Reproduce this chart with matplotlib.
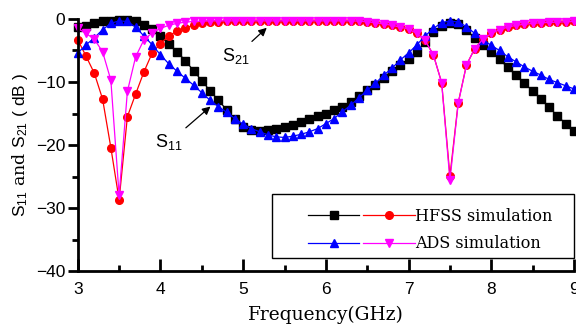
import matplotlib
matplotlib.use('Agg')
import matplotlib.pyplot as plt
from matplotlib.legend_handler import HandlerTuple
from matplotlib.patches import Rectangle
from matplotlib.ticker import MultipleLocator

# frequency sweep (GHz), 0.1 GHz step
freq = [3.0, 3.1, 3.2, 3.3, 3.4, 3.5, 3.6, 3.7, 3.8, 3.9,
        4.0, 4.1, 4.2, 4.3, 4.4, 4.5, 4.6, 4.7, 4.8, 4.9,
        5.0, 5.1, 5.2, 5.3, 5.4, 5.5, 5.6, 5.7, 5.8, 5.9,
        6.0, 6.1, 6.2, 6.3, 6.4, 6.5, 6.6, 6.7, 6.8, 6.9,
        7.0, 7.1, 7.2, 7.3, 7.4, 7.5, 7.6, 7.7, 7.8, 7.9,
        8.0, 8.1, 8.2, 8.3, 8.4, 8.5, 8.6, 8.7, 8.8, 8.9, 9.0]

hfss_s11 = [-1.3, -1.1, -0.7, -0.4, -0.3, -0.2, -0.2, -0.4, -1.0, -1.6,
            -2.7, -3.9, -5.2, -6.6, -8.2, -9.8, -11.4, -12.9, -14.4, -15.9,
            -17.1, -17.6, -17.8, -17.6, -17.4, -17.1, -16.8, -16.3, -15.8, -15.4,
            -15.0, -14.4, -13.9, -13.1, -12.3, -11.3, -10.4, -9.3, -8.2, -7.3,
            -6.4, -5.2, -3.7, -2.1, -1.1, -0.7, -0.8, -1.8, -3.0, -4.1,
            -5.2, -6.4, -7.7, -8.9, -10.2, -11.4, -12.7, -14.0, -15.4, -16.6, -17.7]

hfss_s21 = [-3.3, -5.9, -8.6, -12.7, -20.4, -28.7, -15.5, -11.9, -8.4, -5.4,
            -3.9, -2.7, -1.9, -1.4, -1.0, -0.7, -0.55, -0.45, -0.4, -0.4,
            -0.35, -0.35, -0.35, -0.35, -0.35, -0.35, -0.35, -0.35, -0.35, -0.35,
            -0.35, -0.35, -0.35, -0.35, -0.4, -0.45, -0.6, -0.8, -1.0, -1.3,
            -1.6, -2.3, -3.4, -5.7, -10.1, -24.9, -13.3, -7.3, -4.7, -3.2,
            -2.3, -1.7, -1.3, -1.0, -0.85, -0.7, -0.6, -0.55, -0.5, -0.45, -0.4]

ads_s11 = [-5.4, -4.1, -3.0, -1.7, -0.7, -0.3, -0.4, -1.3, -2.7, -4.1,
           -5.7, -7.1, -8.3, -9.4, -10.5, -11.7, -12.9, -13.9, -14.8, -15.8,
           -16.7, -17.4, -17.9, -18.4, -18.7, -18.8, -18.6, -18.3, -17.9, -17.4,
           -16.6, -15.8, -14.7, -13.7, -12.5, -11.3, -10.2, -8.9, -7.8, -6.5,
           -5.4, -4.1, -2.7, -1.5, -0.6, -0.3, -0.5, -1.2, -2.3, -3.3,
           -4.2, -5.0, -6.0, -6.8, -7.6, -8.3, -8.9, -9.6, -10.1, -10.6, -11.1]

ads_s21 = [-1.5, -2.3, -3.2, -5.2, -9.7, -28.0, -11.5, -6.0, -3.3, -2.2,
           -1.5, -1.0, -0.7, -0.5, -0.4, -0.35, -0.3, -0.3, -0.3, -0.3,
           -0.3, -0.3, -0.3, -0.3, -0.3, -0.3, -0.3, -0.3, -0.3, -0.3,
           -0.3, -0.3, -0.3, -0.3, -0.35, -0.45, -0.6, -0.8, -1.0, -1.3,
           -1.6, -2.3, -3.4, -5.7, -10.1, -25.6, -13.4, -7.3, -4.7, -3.2,
           -2.3, -1.7, -1.3, -1.0, -0.85, -0.7, -0.6, -0.55, -0.5, -0.45, -0.4]

plt.rcParams['mathtext.fontset'] = 'custom'
plt.rcParams['mathtext.rm'] = 'Liberation Sans'
plt.rcParams['mathtext.it'] = 'Liberation Sans'

fig = plt.figure(figsize=(5.76, 3.27), dpi=100)
ax = fig.add_axes([0.135, 0.171, 0.8615, 0.771])

kw = dict(linewidth=0.9, markersize=5.5, clip_on=False)
l1, = ax.plot(freq, hfss_s11, color='black', marker='s', **kw)
l2, = ax.plot(freq, hfss_s21, color='red', marker='o', **kw)
l3, = ax.plot(freq, ads_s11, color='blue', marker='^', **kw)
l4, = ax.plot(freq, ads_s21, color='magenta', marker='v', **kw)

ax.set_xlim(3, 9)
ax.set_ylim(-40, 0)
ax.xaxis.set_major_locator(MultipleLocator(1))
ax.xaxis.set_minor_locator(MultipleLocator(0.5))
ax.yaxis.set_major_locator(MultipleLocator(10))
ax.yaxis.set_minor_locator(MultipleLocator(5))

for side in ['top', 'right']:
    ax.spines[side].set_visible(False)
for side in ['left', 'bottom']:
    ax.spines[side].set_linewidth(2)

ax.tick_params(axis='x', which='major', direction='in', length=9, width=2, pad=8)
ax.tick_params(axis='x', which='minor', direction='in', length=4.5, width=2)
ax.tick_params(axis='y', which='major', direction='out', length=7, width=2, pad=2)
ax.tick_params(axis='y', which='minor', direction='out', length=4, width=2)
for lab in ax.get_xticklabels() + ax.get_yticklabels():
    lab.set_fontfamily('Liberation Sans')
    lab.set_fontsize(12.5)

ax.set_xlabel('Frequency(GHz)', family='DejaVu Serif', fontsize=13.4, labelpad=6)
ax.set_ylabel(r'$\mathrm{S_{11}}$ and $\mathrm{S_{21}}$ $\mathrm{(\ dB\ )}$',
              family='DejaVu Serif', fontsize=12.5, labelpad=4)

ax.annotate(r'$\mathrm{S_{11}}$', xy=(4.63, -13.6), xytext=(4.27, -18.0),
            fontsize=13, ha='right', va='top',
            arrowprops=dict(arrowstyle='-|>', color='black', lw=0.9, mutation_scale=12))
ax.annotate(r'$\mathrm{S_{21}}$', xy=(5.31, -1.1), xytext=(5.08, -4.3),
            fontsize=13, ha='right', va='top',
            arrowprops=dict(arrowstyle='-|>', color='black', lw=0.9, mutation_scale=12))

# legend frame drawn separately so the entries can sit off-centre like the original
ax.add_patch(Rectangle((0.391, 0.053), 0.609, 0.253, transform=ax.transAxes,
                       facecolor='white', edgecolor='black', linewidth=1.0,
                       clip_on=False, zorder=4))
leg = ax.legend([(l1, l2), (l3, l4)], ['HFSS simulation', 'ADS simulation'],
                handler_map={tuple: HandlerTuple(ndivide=None, pad=0.25)},
                loc='center left', bbox_to_anchor=(0.4637, 0.163),
                handlelength=6.7, handletextpad=0.0,
                borderaxespad=0, borderpad=0, frameon=False,
                prop={'family': 'DejaVu Serif', 'size': 11.5},
                labelspacing=0.65)
leg.set_zorder(5)

fig.savefig('out.png', dpi=100)
